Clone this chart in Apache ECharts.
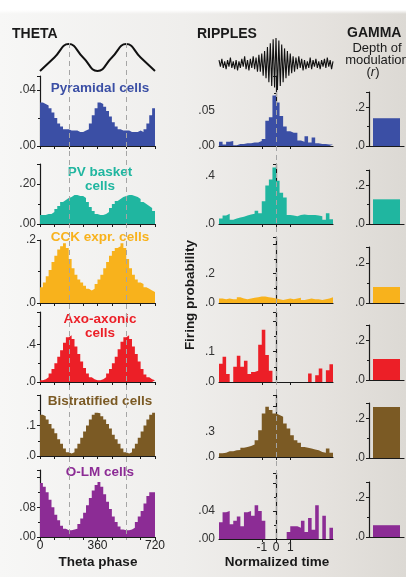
<!DOCTYPE html>
<html>
<head>
<meta charset="utf-8">
<script src="https://cdn.jsdelivr.net/npm/echarts@6/dist/echarts.min.js"></script>
<style>
  html, body { margin: 0; padding: 0; }
  body {
    width: 406px; height: 577px; overflow: hidden;
    background:
      linear-gradient(to bottom, #ffffff 0, #ffffff 10px, rgba(255,255,255,0) 14px),
      linear-gradient(to right, #f7f7f6 0%, #efeeec 45%, #e5e2de 80%, #dcd9d4 100%);
  }
  #chart { width: 406px; height: 577px; }
</style>
</head>
<body>
<div id="chart"></div>
<script>
// cell classes, top to bottom
const cellNames = ['Pyramidal cells', 'PV basket\ncells', 'CCK expr. cells', 'Axo-axonic\ncells', 'Bistratified cells', 'O-LM cells']
const cellColors = ['#3b4fa5', '#20b6a0', '#f8b21c', '#ec1f27', '#7b5a24', '#8c2c95']

// theta phase histograms, 40 bins of 18 deg over 0..720 (left bin edges)
const thetaEdges = Array.from({ length: 41 }, (_, i) => i * 18)
const thetaPyramidal = [0.031, 0.030, 0.029, 0.027, 0.024, 0.020, 0.016, 0.014, 0.012, 0.012,
  0.011, 0.011, 0.011, 0.010, 0.010, 0.011, 0.012, 0.016, 0.022, 0.027,
  0.031, 0.030, 0.028, 0.025, 0.021, 0.017, 0.014, 0.012, 0.011, 0.011,
  0.011, 0.010, 0.010, 0.010, 0.011, 0.010, 0.012, 0.016, 0.022, 0.027]
const thetaPV = [0.045, 0.045, 0.05, 0.05, 0.06, 0.075, 0.09, 0.11, 0.12, 0.13,
  0.135, 0.145, 0.145, 0.14, 0.14, 0.13, 0.11, 0.085, 0.065, 0.05,
  0.045, 0.045, 0.05, 0.06, 0.08, 0.10, 0.115, 0.125, 0.135, 0.14,
  0.145, 0.145, 0.14, 0.135, 0.125, 0.11, 0.10, 0.09, 0.08, 0.065]
const thetaCCK = [0.05, 0.065, 0.085, 0.105, 0.13, 0.15, 0.17, 0.18, 0.19, 0.175,
  0.14, 0.11, 0.09, 0.075, 0.065, 0.055, 0.045, 0.04, 0.045, 0.06,
  0.075, 0.09, 0.11, 0.13, 0.15, 0.165, 0.175, 0.18, 0.19, 0.175,
  0.14, 0.11, 0.09, 0.075, 0.065, 0.06, 0.05, 0.045, 0.04, 0.035]
const thetaAxo = [0.02, 0.03, 0.05, 0.09, 0.14, 0.2, 0.27, 0.34, 0.42, 0.48,
  0.5, 0.46, 0.38, 0.3, 0.22, 0.15, 0.09, 0.05, 0.03, 0.02,
  0.02, 0.03, 0.05, 0.09, 0.14, 0.2, 0.27, 0.35, 0.43, 0.48,
  0.5, 0.46, 0.38, 0.3, 0.22, 0.14, 0.08, 0.05, 0.03, 0.02]
const thetaBist = [0.135, 0.13, 0.12, 0.105, 0.09, 0.075, 0.055, 0.04, 0.025, 0.012,
  0.008, 0.012, 0.025, 0.04, 0.06, 0.08, 0.1, 0.12, 0.135, 0.142,
  0.14, 0.13, 0.12, 0.105, 0.09, 0.07, 0.055, 0.04, 0.025, 0.012,
  0.008, 0.012, 0.025, 0.04, 0.06, 0.08, 0.1, 0.12, 0.135, 0.142]
const thetaOLM = [0.145, 0.135, 0.12, 0.10, 0.08, 0.06, 0.045, 0.03, 0.022, 0.018,
  0.018, 0.02, 0.022, 0.035, 0.05, 0.065, 0.085, 0.105, 0.125, 0.14,
  0.148, 0.135, 0.115, 0.095, 0.075, 0.055, 0.04, 0.028, 0.02, 0.018,
  0.018, 0.02, 0.025, 0.04, 0.055, 0.07, 0.09, 0.11, 0.12, 0.12]

// ripple-triggered histograms, 32 bins of 0.25 over -4..4 (left bin edges)
const rippleEdges = Array.from({ length: 33 }, (_, i) => -4 + i * 0.25)
const ripplePyramidal = [0.006, 0.002, 0.006, 0.007, 0.001, 0.003, 0.003, 0.004, 0.004, 0.005,
  0.005, 0.007, 0.010, 0.036, 0.041, 0.072, 0.062, 0.043, 0.028, 0.021,
  0.019, 0.019, 0.008, 0.006, 0.014, 0.005, 0.012, 0.004, 0.003, 0.003, 0.002, 0.002]
const ripplePV = [0.045, 0.07, 0.085, 0.035, 0.045, 0.055, 0.06, 0.07, 0.08, 0.085,
  0.11, 0.09, 0.19, 0.32, 0.37, 0.47, 0.36, 0.26, 0.22, 0.075,
  0.07, 0.065, 0.075, 0.08, 0.075, 0.075, 0.075, 0.07, 0.065, 0.035, 0.09, 0.04]
const rippleCCK = [0.03, 0.025, 0.03, 0.025, 0.025, 0.04, 0.03, 0.025, 0.03, 0.035,
  0.04, 0.045, 0.045, 0.04, 0.035, 0.03, 0.025, 0.02, 0.025, 0.03,
  0.025, 0.03, 0.035, 0.02, 0.025, 0.03, 0.025, 0.025, 0.02, 0.025, 0.03, 0.04]
const rippleAxo = [0.06, 0.083, 0.026, 0, 0.05, 0.086, 0.05, 0.07, 0.026, 0.033,
  0.037, 0.122, 0.172, 0.089, 0.037, 0, 0, 0, 0, 0,
  0, 0, 0, 0, 0, 0.028, 0, 0.022, 0.044, 0, 0.039, 0.058]
const rippleBist = [0.045, 0.05, 0.07, 0.07, 0.08, 0.085, 0.11, 0.12, 0.13, 0.15,
  0.2, 0.32, 0.52, 0.6, 0.56, 0.52, 0.5, 0.48, 0.4, 0.34,
  0.26, 0.2, 0.17, 0.12, 0.11, 0.1, 0.09, 0.08, 0.06, 0.05, 0.1, 0.05]
const rippleOLM = [0.024, 0.038, 0.04, 0.021, 0.026, 0.032, 0.018, 0.038, 0.04, 0.033,
  0.048, 0.04, 0.026, 0, 0, 0, 0, 0, 0, 0.01,
  0.018, 0.018, 0.016, 0.026, 0.01, 0.03, 0.013, 0.048, 0, 0.033, 0, 0.016]

// gamma depth of modulation (r)
const gammaDepth = [0.144, 0.128, 0.08, 0.107, 0.26, 0.06]

// reference traces above the columns
const thetaWavePhase = [0, 90, 180, 270, 360, 450, 540, 630, 720]
const thetaWave = [-1, 0, 1, 0, -1, 0, 1, 0, -1]
const rippleTrace = [0.15, -0.1, 0.2, -0.15, 0.1, -0.2, 0.15, -0.1, 0.25, -0.15,
  0.1, -0.2, 0.15, -0.25, 0.1, -0.15, 0.2, -0.1, 0.3, -0.2,
  0.15, -0.25, 0.2, -0.15, 0.3, -0.2, 0.25, -0.3, 0.35, -0.3,
  0.4, -0.45, 0.5, -0.55, 0.65, -0.7, 0.8, -0.85, 0.95, -0.9,
  1.0, -1.0, 0.9, -0.85, 0.75, -0.7, 0.6, -0.55, 0.5, -0.45,
  0.4, -0.35, 0.3, -0.3, 0.25, -0.2, 0.3, -0.15, 0.2, -0.25,
  0.15, -0.2, 0.1, -0.15, 0.25, -0.2, 0.15, -0.1, 0.2, -0.15,
  0.1, -0.2, 0.15, -0.1, 0.2, -0.15, 0.25, -0.1, 0.15, -0.2, 0.1]

// axis ranges and tick labels
const thetaYMax = [0.05, 0.3, 0.2, 0.75, 0.2, 0.18]
const thetaYTicks = [[0, 0.04], [0, 0.2], [0, 0.2], [0, 0.4], [0, 0.1], [0, 0.08]]
const thetaYLabels = [['.00', '.04'], ['.00', '.20'], ['.0', '.2'], ['.0', '.4'], ['.0', '.1'], ['.00', '.08']]
const rippleYMax = [0.1, 0.5, 0.45, 0.23, 0.74, 0.094]
const rippleYTicks = [[0, 0.05], [0, 0.4], [0, 0.2], [0, 0.1], [0, 0.3], [0, 0.04]]
const rippleYLabels = [['.00', '.05'], ['.0', '.4'], ['.0', '.2'], ['.0', '.1'], ['.0', '.3'], ['.00', '.04']]
const gammaYMax = 0.28
const gammaYTicks = [0, 0.2]
const gammaYLabels = ['.0', '.2']
const thetaXTicks = [0, 360, 720]
const thetaXLabels = ['0', '360', '720']
const rippleXTicks = [-1, 0, 1]
const rippleXLabels = ['-1', '0', '1']

// layout (px)
const thetaTop = [76, 164, 240, 312, 395, 470]
const thetaBase = [146, 224, 303, 382, 456, 537]
const rippleTop = [76, 164, 237, 312, 395, 473]
const rippleBase = [146, 224, 303, 382, 457, 539]
const gammaTop = [92, 170, 247, 325, 403, 482]
const gammaBase = [146, 224, 303, 380, 458, 537]
const titleY = [88, 172, 237, 319, 401, 472]

const font = "'Liberation Sans', Arial, Helvetica, sans-serif"
const ink = '#1a1a1a'

const thetaData = [thetaPyramidal, thetaPV, thetaCCK, thetaAxo, thetaBist, thetaOLM]
const rippleData = [ripplePyramidal, ripplePV, rippleCCK, rippleAxo, rippleBist, rippleOLM]

const chart = echarts.init(document.getElementById('chart'))

const grids = []
const xAxes = []
const yAxes = []
const series = []

function lookup(ticks, labels) {
  return (v) => {
    const k = ticks.findIndex(t => Math.abs(t - v) < 1e-9)
    return k < 0 ? '' : labels[k]
  }
}

function addGrid(left, width, top, bottom) {
  grids.push({ left, width, top, height: bottom - top, outerBoundsMode: 'none' })
  return grids.length - 1
}

function addYAxis(gridIndex, max, ticks, labels) {
  yAxes.push({
    type: 'value', gridIndex, min: 0, max, interval: ticks[1],
    splitLine: { show: false },
    axisLine: { show: true, lineStyle: { color: ink, width: 1.2 } },
    axisTick: { show: true, length: 3, lineStyle: { color: ink } },
    minorTick: { show: true, splitNumber: 2, length: 2, lineStyle: { color: ink } },
    axisLabel: {
      customValues: ticks, formatter: lookup(ticks, labels),
      color: '#333', fontSize: 12, fontFamily: font, margin: 4
    }
  })
  return yAxes.length - 1
}

function axisX(gridIndex, min, max, interval, tickValues, ticks, labels, showLabels) {
  xAxes.push({
    type: 'value', gridIndex, min, max, interval, position: 'bottom',
    splitLine: { show: false },
    axisLine: { show: true, onZero: false, lineStyle: { color: ink, width: 1.2 } },
    axisTick: { show: true, length: 3, customValues: tickValues, lineStyle: { color: ink } },
    axisLabel: {
      show: showLabels, customValues: ticks, formatter: lookup(ticks, labels),
      color: '#222', fontSize: 12, fontFamily: font, margin: 3
    }
  })
  return xAxes.length - 1
}

// histogram as a filled step line: bin k spans edges[k]..edges[k+1]
function histSeries(edges, values, color, xAxisIndex, yAxisIndex) {
  return {
    type: 'line', step: 'end', symbol: 'none', xAxisIndex, yAxisIndex, silent: true,
    data: edges.map((e, k) => [e, values[Math.min(k, values.length - 1)]]),
    lineStyle: { opacity: 0 },
    areaStyle: { color, opacity: 1 }
  }
}

const thetaValAxes = []
const rippleValAxes = []

// theta column
thetaData.forEach((data, i) => {
  const g = addGrid(40, 115, thetaTop[i], thetaBase[i])
  const x = axisX(g, 0, 720, 90, [0, 90, 180, 270, 360, 450, 540, 630, 720], thetaXTicks, thetaXLabels, i === 5)
  thetaValAxes.push(x)
  const y = addYAxis(g, thetaYMax[i], thetaYTicks[i], thetaYLabels[i])
  series.push(histSeries(thetaEdges, data, cellColors[i], x, y))
})

// ripple column
rippleData.forEach((data, i) => {
  const g = addGrid(219, 114, rippleTop[i], rippleBase[i])
  const x = axisX(g, -4, 4, 1, rippleXTicks, rippleXTicks, rippleXLabels, i === 5)
  rippleValAxes.push(x)
  const y = addYAxis(g, rippleYMax[i], rippleYTicks[i], rippleYLabels[i])
  series.push(histSeries(rippleEdges, data, cellColors[i], x, y))
})

// gamma column
gammaDepth.forEach((v, i) => {
  const g = addGrid(369, 35, gammaTop[i], gammaBase[i])
  xAxes.push({
    type: 'category', gridIndex: g, data: ['r'],
    axisLine: { show: true, lineStyle: { color: ink, width: 1.2 } },
    axisTick: { show: false }, axisLabel: { show: false }
  })
  const cx = xAxes.length - 1
  const y = addYAxis(g, gammaYMax, gammaYTicks, gammaYLabels)
  series.push({
    type: 'bar', xAxisIndex: cx, yAxisIndex: y, data: [v], barWidth: 27,
    itemStyle: { color: cellColors[i] }, silent: true
  })
})

// theta wave
{
  const g = addGrid(40, 115, 44, 71)
  xAxes.push({ type: 'value', gridIndex: g, min: 0, max: 720, show: false })
  const cx = xAxes.length - 1
  yAxes.push({ type: 'value', gridIndex: g, min: -1, max: 1, show: false })
  series.push({
    type: 'line', xAxisIndex: cx, yAxisIndex: yAxes.length - 1, smooth: true, symbol: 'none',
    data: thetaWavePhase.map((p, k) => [p, thetaWave[k]]),
    lineStyle: { color: '#111', width: 2 }, silent: true
  })
}

// ripple trace
{
  const g = addGrid(219, 114, 38, 90)
  xAxes.push({ type: 'category', gridIndex: g, boundaryGap: false, data: rippleTrace.map((_, k) => k), show: false })
  const cx = xAxes.length - 1
  yAxes.push({ type: 'value', gridIndex: g, min: -1, max: 1, show: false })
  series.push({
    type: 'line', xAxisIndex: cx, yAxisIndex: yAxes.length - 1, symbol: 'none',
    data: rippleTrace, lineStyle: { color: '#111', width: 1.1 }, silent: true
  })
}

function label(id, text, x, y, size, opts) {
  return Object.assign({
    type: 'text', id, x, y, silent: true, z: 50,
    style: Object.assign({
      text, fill: ink, font: 'bold ' + size + 'px ' + font,
      textAlign: 'center', textVerticalAlign: 'middle'
    }, (opts && opts.style) || {})
  }, (opts && opts.el) || {})
}

const texts = [
  label('t-theta', 'THETA', 12, 34, 14, { style: { textAlign: 'left' } }),
  label('t-ripples', 'RIPPLES', 197, 34, 14, { style: { textAlign: 'left' } }),
  label('t-gamma', 'GAMMA', 347, 33, 14, { style: { textAlign: 'left' } }),
  label('t-depth', 'Depth of', 377, 48, 13, { style: { font: '13px ' + font } }),
  label('t-mod', 'modulation', 377, 60, 13, { style: { font: '13px ' + font } }),
  label('t-r', '({i|r})', 373, 72, 13, {
    style: { font: '13px ' + font, rich: { i: { fontStyle: 'italic', fontSize: 13, fontFamily: font, fill: ink } } }
  }),
  label('t-phase', 'Theta phase', 98, 562, 13.5),
  label('t-time', 'Normalized time', 277, 562, 13.5),
  label('t-firing', 'Firing probability', 190, 295, 13.5, { el: { rotation: Math.PI / 2 } })
]
cellNames.forEach((name, i) => {
  texts.push(label('t-cell' + i, name, 100, titleY[i], 13.5, {
    style: { fill: cellColors[i], lineHeight: 14.5, textVerticalAlign: 'top' },
    el: { y: titleY[i] - 7 }
  }))
})

chart.setOption({
  backgroundColor: 'transparent',
  animation: false,
  grid: grids,
  xAxis: xAxes,
  yAxis: yAxes,
  series,
  graphic: { elements: texts }
})

// dashed guide lines placed through the axis scales
const dash = { stroke: '#a5a5a5', lineWidth: 1, lineDash: [5, 4] }
const lines = []
;[180, 540].forEach((p, k) => {
  const x = Math.round(chart.convertToPixel({ xAxisIndex: thetaValAxes[0] }, p)) + 0.5
  lines.push({ type: 'line', id: 'd-theta' + k, z: 60, silent: true, shape: { x1: x, y1: 43, x2: x, y2: 540 }, style: dash })
})
{
  const x = Math.round(chart.convertToPixel({ xAxisIndex: rippleValAxes[0] }, 0)) + 0.5
  lines.push({ type: 'line', id: 'd-ripple', z: 60, silent: true, shape: { x1: x, y1: 92, x2: x, y2: 538 }, style: dash })
}
chart.setOption({ graphic: { elements: texts.concat(lines) } })
</script>
</body>
</html>
